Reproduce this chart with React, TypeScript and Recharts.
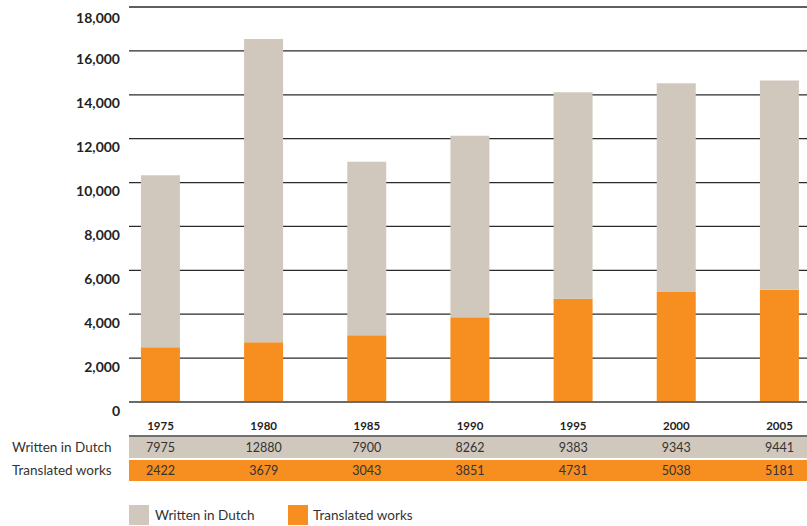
import { Bar, BarChart, CartesianGrid, XAxis, YAxis } from "recharts";

const years = [1975, 1980, 1985, 1990, 1995, 2000, 2005];
// figures printed in the table under the chart
const writtenInDutch = [7975, 12880, 7900, 8262, 9383, 9343, 9441];
const translatedWorks = [2422, 3679, 3043, 3851, 4731, 5038, 5181];
// bar heights as drawn (1980 and 2000 differ a little from the table)
const writtenBars = [7840, 13820, 7910, 8270, 9410, 9510, 9530];
const translatedBars = [2490, 2720, 3040, 3860, 4700, 5010, 5120];
const yTicks = [0, 2000, 4000, 6000, 8000, 10000, 12000, 14000, 16000, 18000];

const GRAY = "#d0c8bd";
const ORANGE = "#f68e20";
const FONT = "Lato, 'Noto Sans', sans-serif";

const data = years.map((year, i) => ({
  year,
  translated: translatedBars[i],
  written: writtenBars[i]
}));

function YTick(props: any) {
  const { y, payload } = props;
  return (
    <text
      x={120}
      y={y + 8}
      textAnchor="end"
      dominantBaseline="central"
      fontFamily={FONT}
      fontWeight={700}
      fontSize={14}
      fill="#222"
    >
      {payload.value.toLocaleString("en-US")}
    </text>
  );
}

function XTick(props: any) {
  const { x, y, payload } = props;
  const i = years.indexOf(payload.value);
  return (
    <g fontFamily={FONT} textAnchor="middle" dominantBaseline="central">
      <text x={x} y={y + 23} fontWeight={700} fontSize={11.5} fill="#222">
        {payload.value}
      </text>
      <text x={x} y={y + 45} fontSize={12.5} fill="#333">
        {writtenInDutch[i]}
      </text>
      <text x={x} y={y + 68.5} fontSize={12.5} fill="#333">
        {translatedWorks[i]}
      </text>
    </g>
  );
}

const rowLabel = {
  position: "absolute" as const,
  left: 12,
  fontFamily: FONT,
  fontSize: 13.5,
  color: "#333",
  lineHeight: "21px"
};

export default function App() {
  return (
    <div style={{ position: "absolute", left: 0, top: 0, width: 807, height: 526, overflow: "hidden", background: "#fff" }}>
      {/* table rows behind the chart */}
      <div style={{ position: "absolute", left: 129, top: 435, width: 678, height: 2, background: "#707070" }} />
      <div style={{ position: "absolute", left: 129, top: 437, width: 678, height: 21, background: GRAY }} />
      <div style={{ position: "absolute", left: 129, top: 460, width: 678, height: 21, background: ORANGE }} />
      <div style={{ ...rowLabel, top: 437 }}>Written in Dutch</div>
      <div style={{ ...rowLabel, top: 460 }}>Translated works</div>

      {/* legend */}
      <div style={{ position: "absolute", left: 129, top: 505, width: 20, height: 20, background: GRAY }} />
      <div style={{ ...rowLabel, left: 155, top: 505, lineHeight: "20px" }}>Written in Dutch</div>
      <div style={{ position: "absolute", left: 288, top: 505, width: 20, height: 20, background: ORANGE }} />
      <div style={{ ...rowLabel, left: 313, top: 505, lineHeight: "20px" }}>Translated works</div>

      <div style={{ position: "absolute", left: 0, top: 0 }}>
        <BarChart width={807} height={526} data={data} margin={{ top: 7, right: 0, bottom: 0, left: 0 }}>
          <CartesianGrid vertical={false} stroke="#2a2a2a" strokeWidth={1.3} />
          <XAxis
            type="number"
            dataKey="year"
            scale="linear"
            domain={[1973.473, 2006.333]}
            ticks={years}
            interval={0}
            height={124}
            tickLine={false}
            tickSize={0}
            tickMargin={0}
            axisLine={{ stroke: "#6b6b6b", strokeWidth: 2 }}
            tick={<XTick />}
          />
          <YAxis
            type="number"
            domain={[0, 18000]}
            ticks={yTicks}
            width={129}
            axisLine={false}
            tickLine={false}
            tick={<YTick />}
          />
          <Bar dataKey="translated" stackId="a" fill={ORANGE} barSize={39} isAnimationActive={false} />
          <Bar dataKey="written" stackId="a" fill={GRAY} barSize={39} isAnimationActive={false} />
        </BarChart>
      </div>
    </div>
  );
}
